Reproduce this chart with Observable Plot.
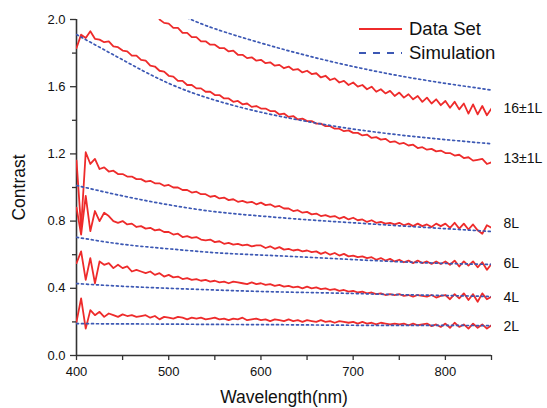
<!DOCTYPE html>
<html><head><meta charset="utf-8">
<script src="https://cdn.jsdelivr.net/npm/d3@7"></script>
<script src="https://cdn.jsdelivr.net/npm/@observablehq/plot@0.6"></script>
<style>
body{margin:0;background:#fff;font-family:"Liberation Sans",Arial,sans-serif;}
#wrap{position:relative;width:547px;height:408px;}
#legend{position:absolute;left:359px;top:17px;font-size:18.5px;color:#111;}
#legend .row{display:flex;align-items:center;height:24px;}
#legend svg{margin-right:6px;}
g[aria-label="y-axis label"] text, g[aria-label="x-axis label"] text{font-size:17.5px;}
</style></head><body>
<div id="wrap">
<div id="legend">
 <div class="row"><svg width="44" height="10"><line x1="0" x2="43" y1="5" y2="5" stroke="#ee2b2b" stroke-width="2"/></svg><span>Data Set</span></div>
 <div class="row"><svg width="44" height="10"><line x1="0" x2="43" y1="5" y2="5" stroke="#3c58b4" stroke-width="2" stroke-dasharray="7,7"/></svg><span>Simulation</span></div>
</div>
</div>
<script>
// Wavelength grid for measured data (nm)
const wavelength = [
 400,405,410,415,420,425,430,435,440,445,
 450,455,460,465,470,475,480,485,490,495,
 500,505,510,515,520,525,530,535,540,545,
 550,555,560,565,570,575,580,585,590,595,
 600,605,610,615,620,625,630,635,640,645,
 650,655,660,665,670,675,680,685,690,695,
 700,705,710,715,720,725,730,735,740,745,
 750,755,760,765,770,775,780,785,790,795,
 800,805,810,815,820,825,830,835,840,845,
 850];

const data2L = [
 0.20,0.34,0.16,0.27,0.24,0.26,0.23,0.25,0.24,0.23,
 0.245,0.235,0.24,0.23,0.235,0.24,0.225,0.235,0.215,0.23,
 0.225,0.22,0.23,0.225,0.215,0.225,0.22,0.225,0.215,0.22,
 0.225,0.215,0.22,0.21,0.22,0.215,0.225,0.21,0.215,0.22,
 0.21,0.215,0.205,0.215,0.21,0.205,0.215,0.205,0.21,0.20,
 0.21,0.205,0.20,0.21,0.20,0.205,0.195,0.205,0.20,0.195,
 0.20,0.19,0.20,0.19,0.195,0.185,0.195,0.19,0.185,0.19,
 0.185,0.19,0.18,0.19,0.18,0.185,0.19,0.175,0.185,0.17,
 0.19,0.165,0.195,0.17,0.185,0.16,0.19,0.165,0.185,0.16,
 0.18];

const data4L = [
 0.55,0.62,0.45,0.58,0.43,0.56,0.54,0.55,0.52,0.54,
 0.52,0.53,0.50,0.51,0.50,0.49,0.50,0.48,0.49,0.47,
 0.48,0.465,0.47,0.455,0.46,0.45,0.455,0.445,0.45,0.44,
 0.445,0.435,0.44,0.43,0.44,0.435,0.43,0.425,0.435,0.425,
 0.43,0.42,0.425,0.415,0.42,0.41,0.415,0.405,0.41,0.40,
 0.41,0.40,0.405,0.395,0.40,0.39,0.395,0.385,0.39,0.38,
 0.385,0.375,0.38,0.37,0.375,0.365,0.37,0.36,0.365,0.36,
 0.365,0.355,0.36,0.35,0.36,0.355,0.35,0.36,0.345,0.355,
 0.36,0.335,0.365,0.34,0.37,0.33,0.365,0.32,0.37,0.335,
 0.35];

const data6L = [
 0.88,0.72,0.95,0.74,0.86,0.80,0.85,0.83,0.80,0.79,
 0.80,0.78,0.785,0.765,0.77,0.755,0.76,0.745,0.75,0.735,
 0.735,0.72,0.725,0.705,0.71,0.70,0.705,0.69,0.685,0.69,
 0.675,0.68,0.665,0.67,0.66,0.665,0.655,0.66,0.65,0.655,
 0.655,0.64,0.65,0.635,0.645,0.63,0.635,0.625,0.63,0.62,
 0.625,0.615,0.62,0.605,0.615,0.60,0.61,0.595,0.605,0.59,
 0.595,0.585,0.59,0.58,0.585,0.57,0.58,0.565,0.575,0.56,
 0.57,0.555,0.565,0.55,0.565,0.55,0.56,0.545,0.56,0.545,
 0.56,0.54,0.565,0.53,0.56,0.535,0.56,0.525,0.555,0.51,
 0.545];

const data8L = [
 1.16,0.76,1.21,1.14,1.17,1.11,1.12,1.095,1.10,1.08,
 1.08,1.065,1.065,1.05,1.05,1.035,1.04,1.025,1.025,1.01,
 1.015,1.0,1.0,0.985,0.985,0.97,0.975,0.96,0.96,0.945,
 0.95,0.935,0.94,0.925,0.93,0.915,0.92,0.91,0.915,0.90,
 0.91,0.895,0.90,0.885,0.89,0.875,0.875,0.86,0.865,0.85,
 0.855,0.84,0.845,0.83,0.835,0.825,0.83,0.815,0.825,0.81,
 0.82,0.805,0.81,0.795,0.805,0.79,0.795,0.785,0.79,0.78,
 0.79,0.775,0.785,0.77,0.785,0.77,0.78,0.765,0.785,0.77,
 0.785,0.76,0.79,0.755,0.785,0.75,0.78,0.745,0.725,0.775,
 0.76];

const data13L = [
 1.83,1.91,1.89,1.93,1.885,1.88,1.865,1.87,1.84,1.835,
 1.815,1.81,1.785,1.785,1.76,1.755,1.725,1.72,1.695,1.69,
 1.665,1.66,1.635,1.635,1.61,1.61,1.59,1.59,1.57,1.57,
 1.55,1.55,1.53,1.53,1.51,1.515,1.495,1.50,1.48,1.485,
 1.47,1.47,1.455,1.455,1.435,1.44,1.42,1.425,1.405,1.41,
 1.395,1.395,1.38,1.38,1.365,1.365,1.35,1.35,1.335,1.34,
 1.325,1.325,1.31,1.315,1.295,1.30,1.285,1.29,1.27,1.275,
 1.26,1.265,1.25,1.255,1.235,1.24,1.225,1.23,1.215,1.22,
 1.205,1.205,1.19,1.195,1.175,1.18,1.16,1.165,1.17,1.14,
 1.15];

const data16L = [
 null,null,null,null,null,null,null,null,null,null,
 null,null,null,null,null,null,null,null,2.00,1.98,
 1.975,1.95,1.95,1.92,1.92,1.895,1.895,1.87,1.87,1.85,
 1.85,1.83,1.83,1.81,1.815,1.79,1.79,1.77,1.775,1.755,
 1.76,1.74,1.745,1.725,1.73,1.71,1.72,1.70,1.705,1.685,
 1.695,1.675,1.68,1.655,1.665,1.64,1.65,1.625,1.635,1.61,
 1.625,1.60,1.61,1.585,1.60,1.57,1.585,1.56,1.575,1.545,
 1.565,1.535,1.555,1.525,1.545,1.51,1.535,1.50,1.525,1.49,
 1.515,1.475,1.51,1.465,1.50,1.44,1.495,1.435,1.485,1.43,
 1.47];

// Simulation curves (sampled every 50 nm)
const simWavelength = [400,450,500,550,600,650,700,750,800,850];
const sim2L  = [0.19,0.188,0.187,0.185,0.184,0.182,0.180,0.179,0.179,0.178];
const sim4L  = [0.428,0.412,0.400,0.390,0.381,0.375,0.369,0.362,0.357,0.351];
const sim6L  = [0.704,0.662,0.635,0.612,0.598,0.585,0.571,0.558,0.548,0.542];
const sim8L  = [1.012,0.950,0.897,0.856,0.830,0.808,0.790,0.772,0.755,0.738];
const sim13L = [1.91,1.76,1.62,1.52,1.448,1.393,1.348,1.313,1.285,1.26];
const sim16Wavelength = [520,550,600,650,700,750,800,850];
const sim16L = [2.01,1.945,1.86,1.785,1.72,1.665,1.62,1.58];

const seriesLabels = ["16±1L","13±1L","8L","6L","4L","2L"];
const labelContrast = [1.47,1.173,0.786,0.548,0.345,0.173];

const yTicks = [0,0.4,0.8,1.2,1.6,2.0];
const yMinor = [0.2,0.6,1.0,1.4,1.8];
const xTicks = [400,500,600,700,800];
const xMinor = [450,550,650,750,850];

const dataSeries = {"2L":data2L,"4L":data4L,"6L":data6L,"8L":data8L,"13±1L":data13L,"16±1L":data16L};
const dataRows = [];
for (const [name, vals] of Object.entries(dataSeries)) {
  vals.forEach((v,i) => { if (v != null) dataRows.push({series:name, wavelength:wavelength[i], contrast:v}); });
}
const simRows = [];
for (const [name, vals] of Object.entries({"2L":sim2L,"4L":sim4L,"6L":sim6L,"8L":sim8L,"13±1L":sim13L})) {
  vals.forEach((v,i) => simRows.push({series:name, wavelength:simWavelength[i], contrast:v}));
}
sim16L.forEach((v,i) => simRows.push({series:"16±1L", wavelength:sim16Wavelength[i], contrast:v}));

const axisColor = "#333";
const blank = () => "";
const chart = Plot.plot({
  width:547, height:408,
  marginLeft:76, marginRight:56, marginTop:19, marginBottom:53,
  x:{domain:[400,850]},
  y:{domain:[0,2]},
  style:{fontFamily:"'Liberation Sans', Arial, sans-serif", fontSize:"13px", color:"#111", background:"transparent"},
  marks:[
    Plot.axisY({ticks:yTicks, tickSize:6, tickPadding:5, tickFormat:d3.format(".1f"), label:"Contrast", labelAnchor:"center", labelArrow:"none", labelOffset:64, stroke:axisColor, strokeWidth:1.3}),
    Plot.axisY({ticks:yMinor, tickSize:4, tickFormat:blank, label:null, stroke:axisColor, strokeWidth:1.3}),
    Plot.axisX({ticks:xTicks, tickSize:5, tickPadding:6, label:"Wavelength(nm)", labelAnchor:"center", labelArrow:"none", labelOffset:47, stroke:axisColor, strokeWidth:1.3}),
    Plot.axisX({ticks:xMinor, tickSize:5, tickFormat:blank, label:null, stroke:axisColor, strokeWidth:1.3}),
    Plot.ruleX([400], {stroke:axisColor, strokeWidth:1.6}),
    Plot.ruleY([0], {stroke:axisColor, strokeWidth:1.6}),
    Plot.line(dataRows, {x:"wavelength", y:"contrast", z:"series", stroke:"#ee2b2b", strokeWidth:1.8, clip:true}),
    Plot.line(simRows, {x:"wavelength", y:"contrast", z:"series", stroke:"#3c58b4", strokeWidth:1.7, strokeDasharray:"2,3", curve:"natural", clip:true}),
    Plot.text(seriesLabels, {x:() => 850, y:(d,i) => labelContrast[i], text:d => d, dx:12, textAnchor:"start", fontSize:14, fill:"#111"})
  ]
});
document.getElementById("wrap").prepend(chart);
chart.style.position = "absolute";
chart.style.left = "0";
chart.style.top = "0";
</script>
</body></html>
